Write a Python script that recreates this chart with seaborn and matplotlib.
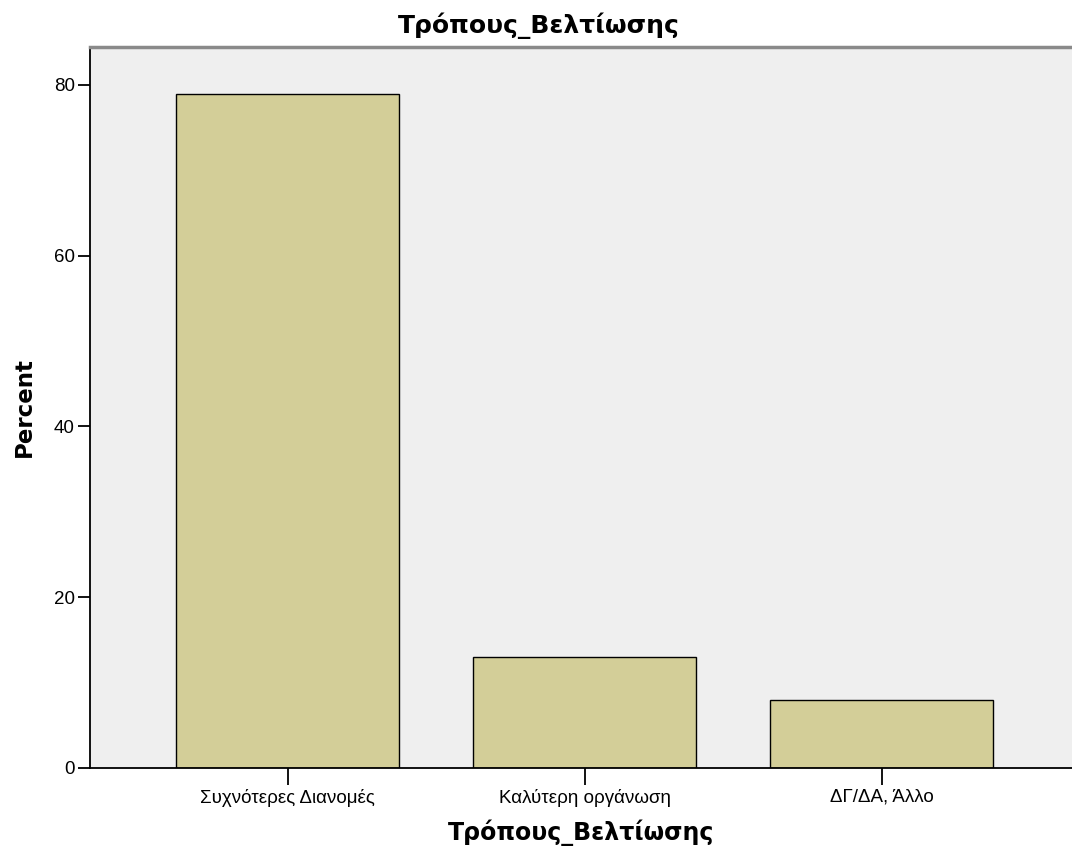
import matplotlib
matplotlib.use("Agg")
import matplotlib.pyplot as plt
import seaborn as sns
import pandas as pd

# ── Data ──────────────────────────────────────────────
categories = ["Συχνότερες Διανομές", "Καλύτερη οργάνωση", "ΔΓ/ΔΑ, Άλλο"]
percent = [79, 13, 8]
title = "Τρόπους_Βελτίωσης"

df = pd.DataFrame({"category": categories, "percent": percent})

sns.set_style("white")
plt.rcParams["font.family"] = ["Liberation Sans", "DejaVu Sans"]
plt.rcParams["text.color"] = "black"
plt.rcParams["axes.labelcolor"] = "black"
plt.rcParams["xtick.color"] = "black"
plt.rcParams["ytick.color"] = "black"

fig = plt.figure(figsize=(10.72, 8.49), dpi=100)
ax = fig.add_axes([90 / 1072, 81 / 849, 982 / 1072, 721 / 849])
ax.set_facecolor("#efefef")

sns.barplot(data=df, x="category", y="percent", order=categories,
            color="#d3ce98", saturation=1, width=0.75,
            edgecolor="black", linewidth=1.0, ax=ax)

ax.set_xlim(-0.665, 2.64)
ax.set_ylim(0, 84.45)
ax.set_yticks([0, 20, 40, 60, 80])

# spines: black left/bottom, grey top, right edge is cropped
for side in ["left", "bottom"]:
    ax.spines[side].set_color("black")
    ax.spines[side].set_linewidth(1.3)
ax.spines["top"].set_color("#8a8a8a")
ax.spines["top"].set_linewidth(2.5)
ax.spines["right"].set_visible(False)

ax.tick_params(axis="y", left=True, direction="out", length=9, width=1.3,
               labelsize=13.5, pad=2)
ax.tick_params(axis="x", bottom=True, direction="out", length=12, width=1.3,
               labelsize=13.5, pad=3)

bold = dict(family=["DejaVu Sans"], fontweight="bold")
ax.set_xlabel(title, labelpad=9, fontsize=17, **bold)
ax.set_ylabel("Percent", labelpad=13, fontsize=16.5, **bold)
fig.text(0.503, 1 - 33 / 849, title, ha="center", va="baseline",
         fontsize=18, **bold)

fig.savefig("out.png", dpi=100)
